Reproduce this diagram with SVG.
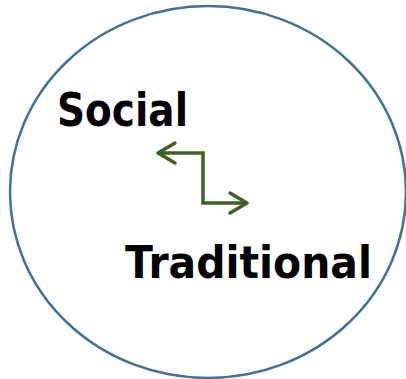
<svg xmlns="http://www.w3.org/2000/svg" width="406" height="379" viewBox="0 0 406 379">
  <style>
    .ring { fill: #ffffff; stroke: #41719c; stroke-width: 2.5; }
    .label { font-family: "Comic Sans MS", "DejaVu Sans", sans-serif; font-weight: bold; fill: #000000; }
    .link { fill: none; stroke: #3f6128; stroke-width: 3.5; }
    .head { fill: none; stroke: #3f6128; stroke-width: 3.5; stroke-linecap: round; stroke-linejoin: round; }
  </style>
  <rect width="406" height="379" fill="#ffffff"/>
  <g id="boundary">
    <ellipse class="ring" cx="208" cy="192" rx="198" ry="186"/>
  </g>
  <g id="social">
    <text class="label" x="57" y="126" font-size="47" textLength="131" lengthAdjust="spacingAndGlyphs">Social</text>
  </g>
  <g id="traditional">
    <text class="label" x="125" y="278" font-size="45" textLength="247" lengthAdjust="spacingAndGlyphs">Traditional</text>
  </g>
  <g id="connectors">
    <path class="link" d="M159 153 H203 V203 H246"/>
    <path class="head" d="M175 143 L158 153 L175 163"/>
    <path class="head" d="M230 193 L247 203 L230 213"/>
  </g>
</svg>
